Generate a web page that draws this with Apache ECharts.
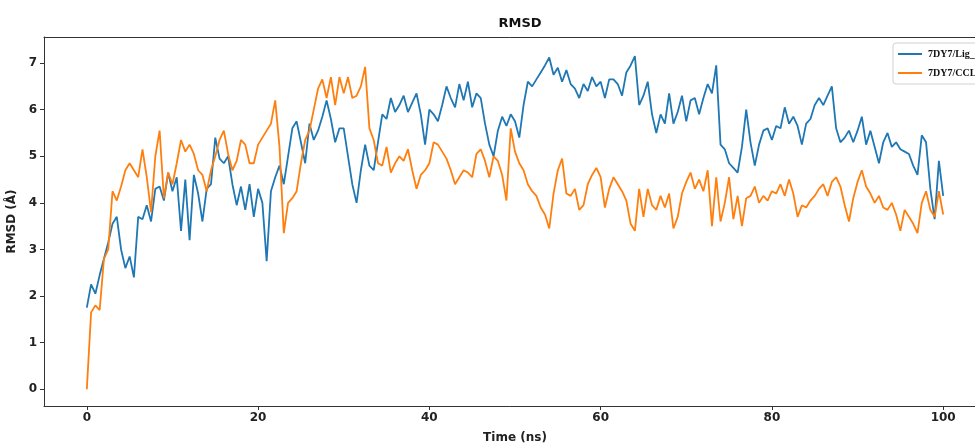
<!DOCTYPE html>
<html>
<head>
<meta charset="utf-8">
<title>RMSD</title>
<script src="https://cdn.jsdelivr.net/npm/echarts@6/dist/echarts.min.js"></script>
<style>
  html, body { margin: 0; padding: 0; background: #fff; overflow: hidden; }
  #chart { width: 975px; height: 445px; }
</style>
</head>
<body>
<div id="chart"></div>
<script>
// Sampling step of the trajectory (ns)
const STEP_NS = 0.5;

// Series names
const seriesNames = ['7DY7/Lig_1', '7DY7/CCL'];

// RMSD (Å) of the ligand complex, one value every 0.5 ns from 0 to 100 ns
const rmsdLig = [
  1.75, 2.25, 2.05, 2.45, 2.80, 3.15, 3.55, 3.70, 3.00, 2.60,
  2.85, 2.40, 3.70, 3.65, 3.95, 3.60, 4.30, 4.35, 4.05, 4.65,
  4.25, 4.55, 3.40, 4.50, 3.20, 4.60, 4.20, 3.60, 4.30, 4.40,
  5.40, 4.95, 4.85, 5.00, 4.40, 3.95, 4.35, 3.85, 4.40, 3.70,
  4.30, 4.00, 2.75, 4.25, 4.55, 4.80, 4.40, 5.00, 5.60, 5.75,
  5.30, 4.85, 5.70, 5.35, 5.55, 5.85, 6.20, 5.80, 5.30, 5.60,
  5.60, 5.00, 4.40, 4.00, 4.70, 5.25, 4.80, 4.70, 5.30, 5.90,
  5.80, 6.25, 5.95, 6.10, 6.30, 5.95, 6.15, 6.35, 5.90, 5.25,
  6.00, 5.90, 5.75, 6.10, 6.50, 6.25, 6.05, 6.55, 6.20, 6.60,
  6.05, 6.35, 6.25, 5.70, 5.25, 5.00, 5.55, 5.85, 5.65, 5.90,
  5.75, 5.40, 6.10, 6.60, 6.50, 6.65, 6.80, 6.95, 7.12, 6.75,
  6.90, 6.60, 6.85, 6.55, 6.45, 6.25, 6.55, 6.40, 6.70, 6.50,
  6.60, 6.25, 6.65, 6.65, 6.55, 6.30, 6.80, 6.95, 7.15, 6.10,
  6.30, 6.60, 5.90, 5.50, 5.90, 5.70, 6.35, 5.70, 5.95, 6.30,
  5.75, 6.20, 6.25, 5.90, 6.25, 6.55, 6.35, 6.95, 5.25, 5.15,
  4.85, 4.75, 4.65, 5.20, 6.00, 5.30, 4.80, 5.25, 5.55, 5.60,
  5.35, 5.65, 5.60, 6.05, 5.70, 5.85, 5.65, 5.25, 5.70, 5.80,
  6.10, 6.25, 6.10, 6.30, 6.50, 5.60, 5.30, 5.40, 5.55, 5.30,
  5.55, 5.85, 5.25, 5.55, 5.20, 4.85, 5.30, 5.50, 5.20, 5.30,
  5.15, 5.10, 5.05, 4.80, 4.60, 5.45, 5.30, 4.30, 3.65, 4.90,
  4.15
];

// RMSD (Å) of the reference complex, same sampling
const rmsdRef = [
  0.00, 1.65, 1.80, 1.70, 2.80, 3.00, 4.25, 4.05, 4.35, 4.70,
  4.85, 4.70, 4.55, 5.15, 4.55, 3.80, 5.00, 5.55, 4.10, 4.65,
  4.40, 4.85, 5.35, 5.10, 5.25, 5.05, 4.70, 4.60, 4.25, 4.70,
  5.00, 5.35, 5.55, 5.05, 4.70, 4.90, 5.35, 5.25, 4.85, 4.85,
  5.25, 5.40, 5.55, 5.70, 6.20, 5.20, 3.35, 4.00, 4.10, 4.25,
  4.85, 5.35, 5.55, 6.00, 6.45, 6.65, 6.25, 6.70, 6.10, 6.70,
  6.35, 6.70, 6.25, 6.30, 6.50, 6.92, 5.60, 5.35, 4.85, 4.80,
  5.20, 4.65, 4.85, 5.00, 4.90, 5.15, 4.70, 4.30, 4.60, 4.70,
  4.85, 5.30, 5.25, 5.10, 4.95, 4.70, 4.40, 4.55, 4.70, 4.65,
  4.55, 5.05, 5.15, 4.90, 4.55, 5.00, 4.90, 4.60, 4.05, 5.60,
  5.10, 4.85, 4.70, 4.40, 4.25, 4.15, 3.90, 3.75, 3.45, 4.20,
  4.70, 4.95, 4.20, 4.15, 4.30, 3.85, 3.95, 4.40, 4.60, 4.75,
  4.55, 3.90, 4.30, 4.55, 4.40, 4.25, 4.05, 3.55, 3.40, 4.30,
  3.70, 4.30, 3.95, 3.85, 4.15, 3.90, 4.20, 3.45, 3.70, 4.20,
  4.45, 4.65, 4.30, 4.50, 4.25, 4.70, 3.50, 4.55, 3.60, 4.00,
  4.55, 3.65, 4.15, 3.50, 4.10, 4.15, 4.35, 4.00, 4.15, 4.05,
  4.25, 4.20, 4.40, 4.15, 4.50, 4.20, 3.70, 3.95, 3.90, 4.05,
  4.15, 4.30, 4.40, 4.15, 4.45, 4.55, 4.35, 3.95, 3.60, 4.10,
  4.45, 4.70, 4.35, 4.20, 4.00, 4.15, 3.90, 3.85, 4.00, 3.75,
  3.40, 3.85, 3.70, 3.55, 3.35, 4.00, 4.25, 3.85, 3.70, 4.25,
  3.75
];

// Tick positions
const xTicks = [0, 20, 40, 60, 80, 100];
const yTicks = [0, 1, 2, 3, 4, 5, 6, 7];

// Axis ranges (data range plus a 5% margin on each side)
const xRange = [-5, 105];
const yRange = [-0.36, 7.56];

const toPairs = arr => arr.map((v, i) => [i * STEP_NS, v]);

const tickFont = { fontFamily: 'DejaVu Sans', fontWeight: 'bold', fontSize: 12, color: '#222' };
const nameFont = { fontFamily: 'DejaVu Sans', fontWeight: 'bold', fontSize: 12, color: '#222' };
const frameLine = { show: true, onZero: false, lineStyle: { color: '#333', width: 1 } };

const chart = echarts.init(document.getElementById('chart'), null, { renderer: 'canvas' });

chart.setOption({
  animation: false,
  backgroundColor: '#ffffff',
  title: {
    text: 'RMSD',
    left: 515,
    top: 12,
    textAlign: 'center',
    textStyle: { fontFamily: 'DejaVu Sans', fontWeight: 'bold', fontSize: 13, color: '#111' }
  },
  grid: {
    left: 44,
    top: 37,
    width: 942,
    height: 369,
    show: false,
    containLabel: false,
    outerBoundsMode: 'none'
  },
  legend: {
    data: seriesNames,
    orient: 'vertical',
    left: 893,
    top: 43,
    padding: [6, 8, 6, 5],
    icon: 'rect',
    itemWidth: 24,
    itemHeight: 2,
    itemGap: 9,
    backgroundColor: '#fff',
    borderColor: '#d0d0d0',
    borderWidth: 1,
    borderRadius: 3,
    textStyle: { fontFamily: 'Liberation Serif', fontWeight: 'bold', fontSize: 10, color: '#111', padding: [0, 0, 0, 1] }
  },
  xAxis: [
    {
      type: 'value',
      min: xRange[0],
      max: xRange[1],
      name: 'Time (ns)',
      nameLocation: 'middle',
      nameGap: 26,
      nameTextStyle: nameFont,
      axisLine: frameLine,
      axisTick: { show: true, inside: false, length: 4, customValues: xTicks, lineStyle: { color: '#333' } },
      axisLabel: Object.assign({ margin: 6, customValues: xTicks }, tickFont),
      splitLine: { show: false }
    },
    {
      // top edge of the frame
      type: 'value',
      position: 'top',
      min: xRange[0],
      max: xRange[1],
      axisLine: frameLine,
      axisTick: { show: false },
      axisLabel: { show: false },
      splitLine: { show: false }
    }
  ],
  yAxis: [
    {
      type: 'value',
      min: yRange[0],
      max: yRange[1],
      name: 'RMSD (Å)',
      nameLocation: 'middle',
      nameGap: 21,
      nameRotate: 90,
      nameTextStyle: nameFont,
      axisLine: frameLine,
      axisTick: { show: true, inside: false, length: 4, customValues: yTicks, lineStyle: { color: '#333' } },
      axisLabel: Object.assign({ margin: 7, customValues: yTicks }, tickFont),
      splitLine: { show: false }
    }
  ],
  series: [
    {
      name: seriesNames[0],
      type: 'line',
      data: toPairs(rmsdLig),
      symbol: 'none',
      lineStyle: { color: '#1f77b4', width: 1.8 },
      itemStyle: { color: '#1f77b4' },
      z: 2
    },
    {
      name: seriesNames[1],
      type: 'line',
      data: toPairs(rmsdRef),
      symbol: 'none',
      lineStyle: { color: '#ff7f0e', width: 1.8 },
      itemStyle: { color: '#ff7f0e' },
      z: 3
    }
  ]
});
</script>
</body>
</html>
